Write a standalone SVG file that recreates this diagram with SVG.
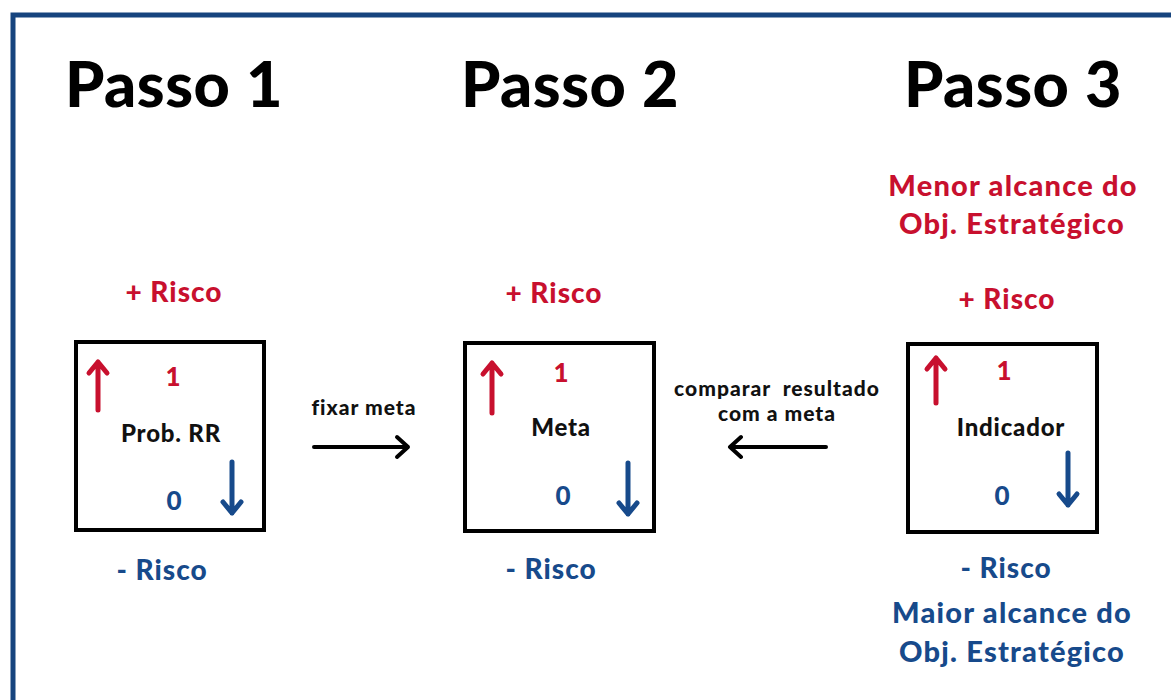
<svg xmlns="http://www.w3.org/2000/svg" width="1171" height="700" viewBox="0 0 1171 700">
  <defs>
    <style>
      text { font-family: "Lato", "Liberation Sans", sans-serif; font-weight: 900; text-anchor: middle; }
      .title { font-size: 63px; fill: #000; letter-spacing: 0.5px; }
      .red { fill: #c8102e; }
      .blue { fill: #174a8b; }
      .risk { font-size: 28px; letter-spacing: 1px; }
      .goal { font-size: 29px; letter-spacing: 1.2px; }
      .num { font-size: 26px; }
      .label { font-size: 24px; fill: #111; letter-spacing: 0.8px; }
      .note { font-size: 21px; fill: #111; letter-spacing: 1px; }
      .box { fill: #fff; stroke: #000; stroke-width: 4; }
      .up { stroke: #c8102e; stroke-width: 5; fill: none; stroke-linecap: round; stroke-linejoin: round; }
      .down { stroke: #174a8b; stroke-width: 5; fill: none; stroke-linecap: round; stroke-linejoin: round; }
      .conn { stroke: #000; stroke-width: 4; fill: none; stroke-linecap: round; stroke-linejoin: round; }
    </style>
  </defs>

  <rect width="1171" height="700" fill="#ffffff"/>
  <!-- frame -->
  <path d="M13 700 V15 H1171" fill="none" stroke="#16447e" stroke-width="5"/>

  <!-- step titles -->
  <text class="title" x="174" y="107">Passo 1</text>
  <text class="title" x="570" y="107">Passo 2</text>
  <text class="title" x="1013" y="107">Passo 3</text>

  <g id="step1">
    <text class="risk red" x="174" y="302">+ Risco</text>
    <rect class="box" x="76" y="342" width="188" height="188"/>
    <path class="up" d="M98 410 V362 M89 373 L98 362 L107 373"/>
    <text class="num red" x="173" y="386">1</text>
    <text class="label" x="171" y="442">Prob. RR</text>
    <text class="num blue" x="174" y="510">0</text>
    <path class="down" d="M232 462 V513 M223 502 L232 513 L241 502"/>
    <text class="risk blue" x="162" y="580">- Risco</text>
  </g>

  <g id="step2">
    <text class="risk red" x="554" y="303">+ Risco</text>
    <rect class="box" x="465" y="343" width="189" height="188"/>
    <path class="up" d="M492 413 V363 M483 374 L492 363 L501 374"/>
    <text class="num red" x="561" y="382">1</text>
    <text class="label" x="561" y="436">Meta</text>
    <text class="num blue" x="563" y="505">0</text>
    <path class="down" d="M628 463 V514 M619 503 L628 514 L637 503"/>
    <text class="risk blue" x="551" y="579">- Risco</text>
  </g>

  <g id="step3">
    <text class="goal red" x="1013" y="196">Menor alcance do</text>
    <text class="goal red" x="1012" y="234">Obj. Estratégico</text>
    <text class="risk red" x="1007" y="309">+ Risco</text>
    <rect class="box" x="908" y="344" width="189" height="188"/>
    <path class="up" d="M936 403 V358 M927 369 L936 358 L945 369"/>
    <text class="num red" x="1004" y="380">1</text>
    <text class="label" x="1011" y="436">Indicador</text>
    <text class="num blue" x="1002" y="505">0</text>
    <path class="down" d="M1068 453 V505 M1059 494 L1068 505 L1077 494"/>
    <text class="risk blue" x="1006" y="578">- Risco</text>
    <text class="goal blue" x="1012" y="623">Maior alcance do</text>
    <text class="goal blue" x="1012" y="662">Obj. Estratégico</text>
  </g>

  <g id="connectors">
    <text class="note" x="364" y="415">fixar meta</text>
    <path class="conn" d="M314 447 H408 M397 437 L408 447 L397 457"/>
    <text class="note" x="777" y="396" xml:space="preserve">comparar  resultado</text>
    <text class="note" x="777" y="421">com a meta</text>
    <path class="conn" d="M826 447 H730 M741 437 L730 447 L741 457"/>
  </g>
</svg>
